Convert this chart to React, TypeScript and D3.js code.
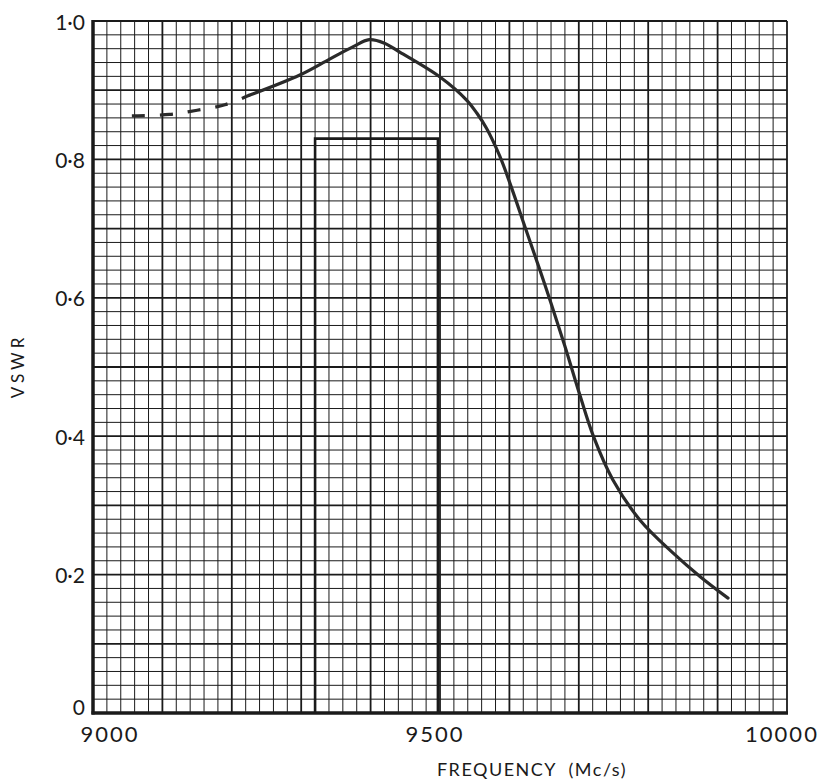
import React from "react";
import * as d3 from "d3";

// frequency (Mc/s) and VSWR
const dashedFreq = [9056, 9110, 9150, 9190, 9226];
const dashedVswr = [0.863, 0.865, 0.871, 0.879, 0.893];

const solidFreq = [
  9226, 9298, 9341, 9375, 9398, 9420, 9442, 9500, 9539, 9553, 9567, 9586,
  9601, 9625, 9644, 9660, 9680, 9702, 9721, 9749, 9788, 9836, 9875, 9915,
];
const solidVswr = [
  0.893, 0.922, 0.945, 0.963, 0.973, 0.968, 0.955, 0.919, 0.885, 0.867,
  0.845, 0.805, 0.765, 0.695, 0.64, 0.592, 0.53, 0.458, 0.4, 0.337, 0.279,
  0.231, 0.197, 0.166,
];

// band rectangle: start, end, height
const bandFreq = [9320, 9497];
const bandTop = 0.83;

const xTicks = [9000, 9500, 10000];
const xTickLabels = ["9000", "9500", "10000"];
const yTicks = [0, 0.2, 0.4, 0.6, 0.8, 1.0];
const yTickLabels = ["0", "0·2", "0·4", "0·6", "0·8", "1·0"];

const W = 829;
const H = 781;
const margin = { left: 93, top: 21, right: 42, bottom: 68 };

export default function App() {
  const x = d3
    .scaleLinear()
    .domain([9000, 10000])
    .range([margin.left, W - margin.right]);
  const y = d3
    .scaleLinear()
    .domain([0, 1])
    .range([H - margin.bottom, margin.top]);

  // graph paper: minor every 20 Mc/s / 0.02, major every 100 / 0.1
  const minorX = d3.range(0, 51).map((i) => 9000 + i * 20);
  const minorY = d3.range(0, 51).map((i) => i * 0.02);

  const line = d3
    .line<[number, number]>()
    .x((d) => x(d[0]))
    .y((d) => y(d[1]))
    .curve(d3.curveCatmullRom.alpha(0.5));

  const dashed = line(dashedFreq.map((f, i) => [f, dashedVswr[i]]));
  const solid = line(solidFreq.map((f, i) => [f, solidVswr[i]]));

  const font = "Lato, 'DejaVu Sans', sans-serif";
  const ink = "#1a1a1a";

  return (
    <svg
      width={W}
      height={H}
      style={{ position: "absolute", left: 0, top: 0, background: "#fff" }}
    >
      <g>
        {minorX.map((f, i) => (
          <line
            key={"vx" + i}
            x1={x(f)}
            x2={x(f)}
            y1={y(0)}
            y2={y(1)}
            stroke={ink}
            strokeWidth={i % 5 === 0 ? 1.8 : 1}
          />
        ))}
        {minorY.map((v, i) => (
          <line
            key={"hy" + i}
            x1={x(9000)}
            x2={x(10000)}
            y1={y(v)}
            y2={y(v)}
            stroke={ink}
            strokeWidth={i % 5 === 0 ? 1.8 : 1}
          />
        ))}
      </g>
      {/* axes */}
      <line
        x1={x(9000)}
        x2={x(9000)}
        y1={y(1) - 1}
        y2={y(0) + 1.5}
        stroke={ink}
        strokeWidth={3.5}
      />
      <line
        x1={x(9000) - 1.5}
        x2={x(10000) + 1}
        y1={y(0)}
        y2={y(0)}
        stroke={ink}
        strokeWidth={3.5}
      />

      {/* band */}
      <path
        d={`M${x(bandFreq[0])},${y(0)}V${y(bandTop)}H${x(bandFreq[1])}V${y(0)}`}
        fill="none"
        stroke={ink}
        strokeWidth={2.6}
      />

      <path
        d={dashed ?? ""}
        fill="none"
        stroke="#2a2a2a"
        strokeWidth={3.2}
        strokeDasharray="13,15"
      />
      <path
        d={solid ?? ""}
        fill="none"
        stroke="#2a2a2a"
        strokeWidth={3.2}
        strokeLinecap="round"
      />

      {/* y tick labels */}
      {yTicks.map((v, i) => (
        <text
          key={"yl" + i}
          x={85}
          y={v === 0 ? y(v) - 7 : y(v)}
          textAnchor="end"
          dominantBaseline="central"
          fontFamily={font}
          fontSize={21}
          fill={ink}
        >
          {yTickLabels[i]}
        </text>
      ))}

      {/* x tick labels */}
      {xTicks.map((f, i) => (
        <text
          key={"xl" + i}
          x={i === 0 ? x(f) + 17 : x(f) - 5}
          y={742}
          textAnchor="middle"
          fontFamily={font}
          fontSize={22}
          letterSpacing={2}
          fill={ink}
        >
          {xTickLabels[i]}
        </text>
      ))}

      <text
        x={532}
        y={776}
        textAnchor="middle"
        fontFamily={font}
        fontSize={18}
        letterSpacing={1.5}
        fill={ink}
      >
        FREQUENCY{"\u00a0\u00a0"}(Mc/s)
      </text>
      <text
        transform="translate(24,366) rotate(-90)"
        textAnchor="middle"
        fontFamily={font}
        fontSize={17}
        letterSpacing={4}
        fill={ink}
      >
        VSWR
      </text>
    </svg>
  );
}
